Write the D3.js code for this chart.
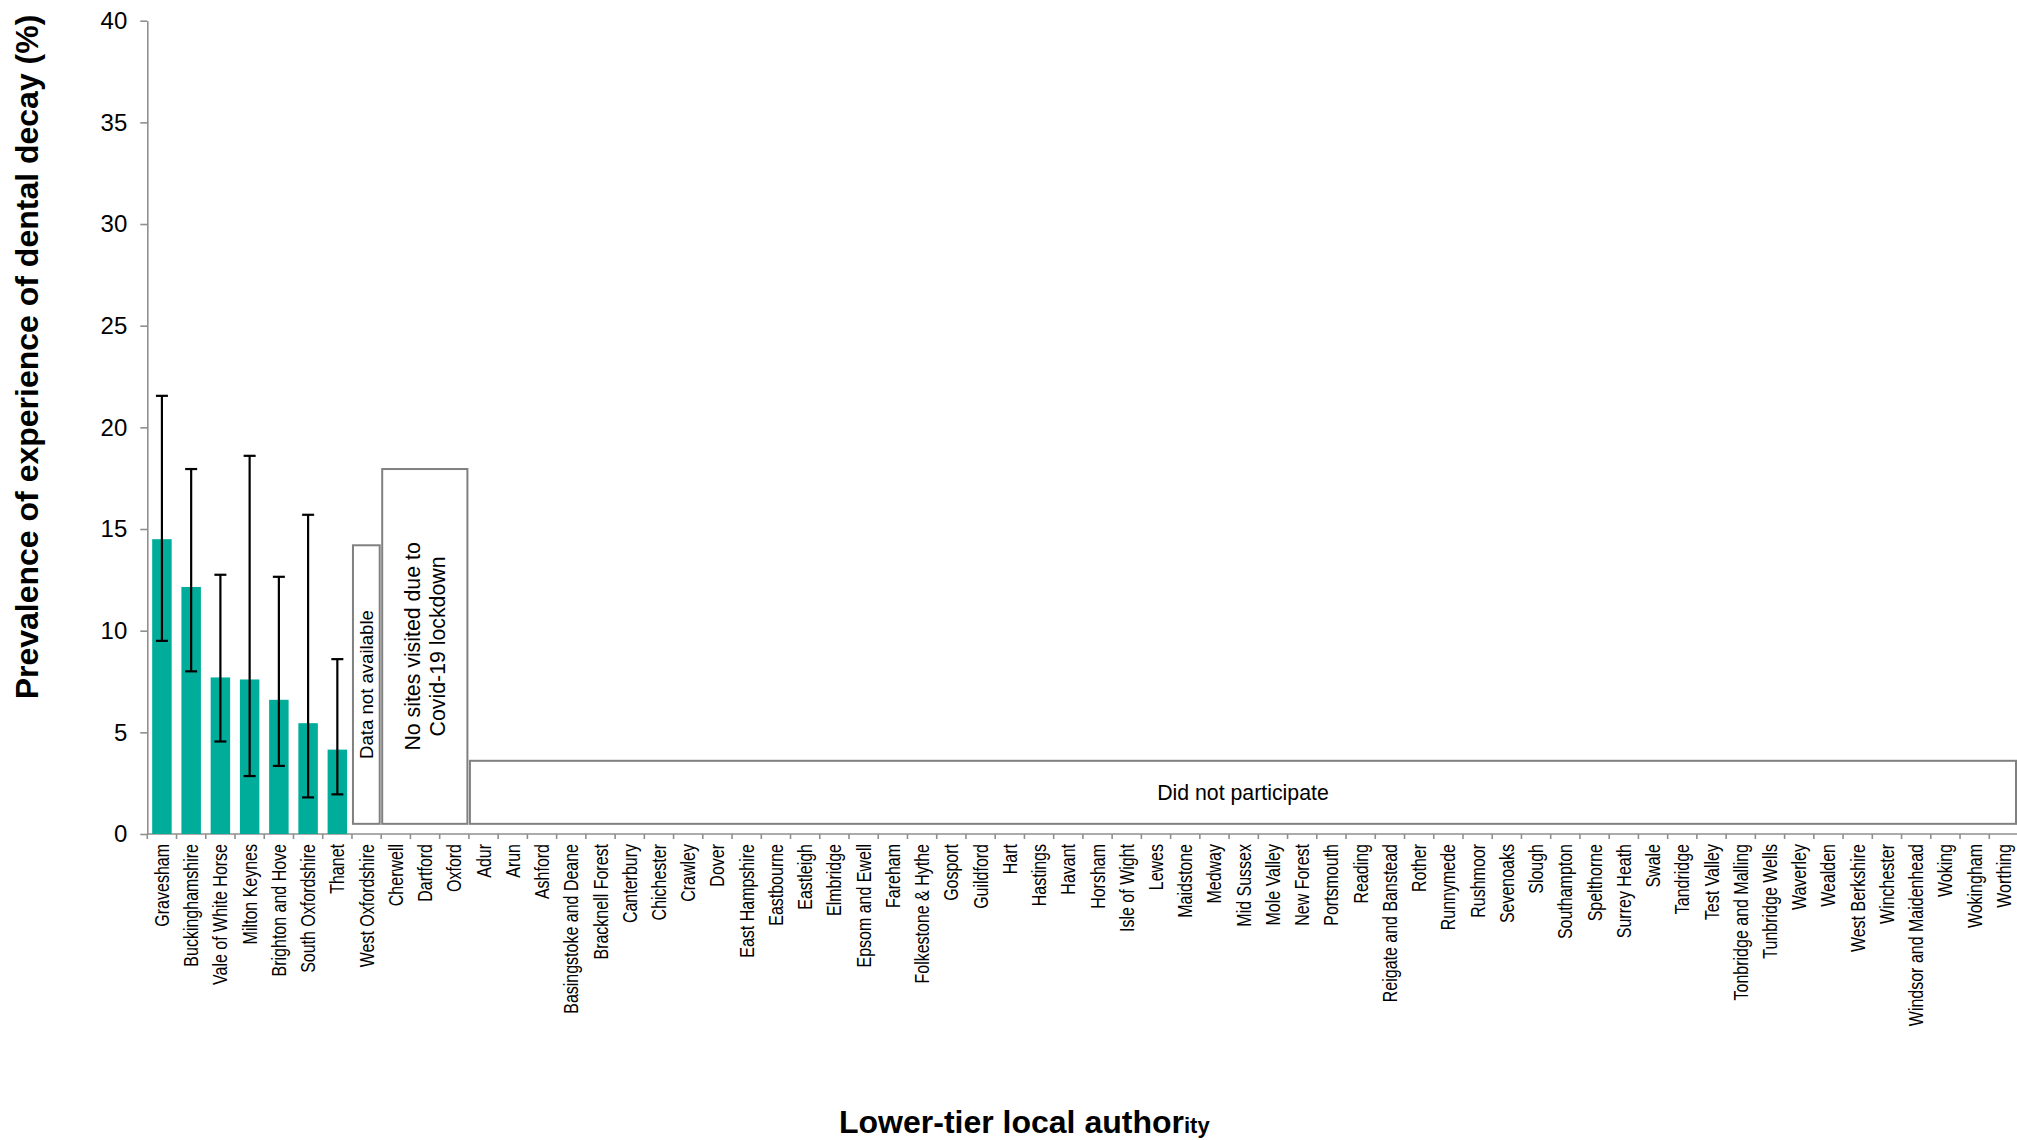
<!DOCTYPE html>
<html>
<head>
<meta charset="utf-8">
<script src="https://cdn.jsdelivr.net/npm/d3@7"></script>
<style>
  html, body { margin: 0; padding: 0; background: #fff; }
  svg { display: block; }
</style>
</head>
<body>
<svg id="chart" width="2017" height="1140"></svg>
<script>
// ---------------- DATA ----------------
const categories = [
  "Gravesham", "Buckinghamshire", "Vale of White Horse", "Milton Keynes",
  "Brighton and Hove", "South Oxfordshire", "Thanet", "West Oxfordshire",
  "Cherwell", "Dartford", "Oxford", "Adur", "Arun", "Ashford",
  "Basingstoke and Deane", "Bracknell Forest", "Canterbury", "Chichester",
  "Crawley", "Dover", "East Hampshire", "Eastbourne", "Eastleigh", "Elmbridge",
  "Epsom and Ewell", "Fareham", "Folkestone & Hythe", "Gosport", "Guildford",
  "Hart", "Hastings", "Havant", "Horsham", "Isle of Wight", "Lewes",
  "Maidstone", "Medway", "Mid Sussex", "Mole Valley", "New Forest",
  "Portsmouth", "Reading", "Reigate and Banstead", "Rother", "Runnymede",
  "Rushmoor", "Sevenoaks", "Slough", "Southampton", "Spelthorne",
  "Surrey Heath", "Swale", "Tandridge", "Test Valley", "Tonbridge and Malling",
  "Tunbridge Wells", "Waverley", "Wealden", "West Berkshire", "Winchester",
  "Windsor and Maidenhead", "Woking", "Wokingham", "Worthing"
];

// authorities with a prevalence estimate
const barCategories = ["Gravesham", "Buckinghamshire", "Vale of White Horse",
  "Milton Keynes", "Brighton and Hove", "South Oxfordshire", "Thanet"];
const prevalence = [14.5, 12.15, 7.7, 7.6, 6.6, 5.45, 4.15];
const ciLower    = [9.5, 8.0, 4.55, 2.85, 3.35, 1.8, 1.95];
const ciUpper    = [21.55, 17.95, 12.75, 18.6, 12.65, 15.7, 8.6];

const yTicks = [0, 5, 10, 15, 20, 25, 30, 35, 40];

// annotation boxes (category span and value span)
const noteLabels = [["Data not available"],
                    ["No sites visited due to", "Covid-19 lockdown"],
                    ["Did not participate"]];
const noteFirst  = ["West Oxfordshire", "Cherwell", "Adur"];
const noteLast   = ["West Oxfordshire", "Oxford", "Worthing"];
const noteTop    = [14.2, 17.95, 3.6];
const noteBottom = [0.5, 0.5, 0.5];

const yTitle = "Prevalence of experience of dental decay (%)";
const xTitleMain = "Lower-tier local author";
const xTitleTail = "ity";

// ---------------- LAYOUT ----------------
const svg = d3.select("#chart");
svg.append("rect").attr("width", 2017).attr("height", 1140).attr("fill", "#fff");

const plotLeft = 147.3, plotRight = 2018.5, plotTop = 20.7, plotBottom = 834;
const axisColor = "#8f8f8f";
const font = "'Liberation Sans', Arial, sans-serif";

const y = d3.scaleLinear().domain([0, 40]).range([plotBottom, plotTop]);
const xSlot = d3.scaleBand().domain(categories).range([plotLeft, plotRight]).padding(0);
const xBar = d3.scaleBand().domain(categories).range([plotLeft, plotRight])
  .paddingInner(1 / 3).paddingOuter(1 / 6);

// ---------------- Y AXIS ----------------
const yAxis = d3.axisLeft(y).tickValues(yTicks).tickSize(7).tickSizeOuter(0).tickPadding(13);
const gy = svg.append("g").attr("transform", `translate(${plotLeft},0)`).call(yAxis);
gy.select(".domain").attr("stroke", axisColor).attr("stroke-width", 1.6);
gy.selectAll(".tick line").attr("stroke", axisColor).attr("stroke-width", 1.6);
gy.selectAll(".tick text").attr("font-family", font).attr("font-size", 24)
  .attr("fill", "#000");

// ---------------- X AXIS ----------------
const gx = svg.append("g");
gx.append("line").attr("x1", plotLeft).attr("x2", plotRight)
  .attr("y1", plotBottom).attr("y2", plotBottom)
  .attr("stroke", axisColor).attr("stroke-width", 1.6);
const tickPos = categories.map(c => xSlot(c)).concat([xSlot.range()[1]]);
gx.selectAll("line.xt").data(tickPos).join("line").attr("class", "xt")
  .attr("x1", d => d).attr("x2", d => d)
  .attr("y1", plotBottom).attr("y2", plotBottom + 5)
  .attr("stroke", axisColor).attr("stroke-width", 1.6);
// condensed (narrow) category labels
gx.selectAll("text.xl").data(categories).join("text").attr("class", "xl")
  .attr("transform", d => `translate(${xSlot(d) + xSlot.bandwidth() / 2},${plotBottom + 10}) rotate(-90) scale(0.82,1)`)
  .attr("text-anchor", "end")
  .attr("dy", "0.36em")
  .attr("font-family", font)
  .attr("font-size", 19.5)
  .attr("fill", "#000")
  .text(d => d);

// ---------------- BARS ----------------
const barData = barCategories.map((c, i) => ({ c, v: prevalence[i], lo: ciLower[i], hi: ciUpper[i] }));
svg.append("g").selectAll("rect").data(barData).join("rect")
  .attr("x", d => xBar(d.c))
  .attr("width", xBar.bandwidth())
  .attr("y", d => y(d.v))
  .attr("height", d => y(0) - y(d.v))
  .attr("fill", "#00ad9a");

// error bars
const eg = svg.append("g").attr("stroke", "#000").attr("stroke-width", 2.2);
barData.forEach(d => {
  const cx = xBar(d.c) + xBar.bandwidth() / 2;
  eg.append("line").attr("x1", cx).attr("x2", cx).attr("y1", y(d.hi)).attr("y2", y(d.lo));
  eg.append("line").attr("x1", cx - 6).attr("x2", cx + 6).attr("y1", y(d.hi)).attr("y2", y(d.hi));
  eg.append("line").attr("x1", cx - 6).attr("x2", cx + 6).attr("y1", y(d.lo)).attr("y2", y(d.lo));
});

// ---------------- ANNOTATION BOXES ----------------
const ng = svg.append("g");
noteLabels.forEach((lines, i) => {
  const x0 = xSlot(noteFirst[i]) + 1;
  const x1 = Math.min(xSlot(noteLast[i]) + xSlot.bandwidth() - 1.5, 2016);
  const y0 = y(noteTop[i]), y1 = y(noteBottom[i]);
  ng.append("rect").attr("x", x0).attr("y", y0)
    .attr("width", x1 - x0).attr("height", y1 - y0)
    .attr("fill", "#fff").attr("stroke", "#808080").attr("stroke-width", 2);
  const cx = (x0 + x1) / 2, cy = (y0 + y1) / 2;
  const vertical = (x1 - x0) < (y1 - y0);
  const size = i === 0 ? 18.6 : 21.3;
  const lh = 24.3;
  const t = ng.append("text")
    .attr("transform", vertical ? `translate(${cx},${cy}) rotate(-90)` : `translate(${cx},${cy})`)
    .attr("text-anchor", "middle")
    .attr("font-family", font).attr("font-size", size).attr("fill", "#000");
  lines.forEach((ln, k) => {
    t.append("tspan").attr("x", 0)
      .attr("y", (k - (lines.length - 1) / 2) * lh)
      .attr("dy", "0.36em").text(ln);
  });
});

// ---------------- TITLES ----------------
svg.append("text")
  .attr("transform", `translate(38,357) rotate(-90)`)
  .attr("text-anchor", "middle")
  .attr("font-family", font).attr("font-weight", "bold").attr("font-size", 32)
  .attr("fill", "#000")
  .text(yTitle);

const xt = svg.append("text")
  .attr("x", 839).attr("y", 1133)
  .attr("font-family", font).attr("font-weight", "bold").attr("fill", "#000");
xt.append("tspan").attr("font-size", 32).text(xTitleMain);
xt.append("tspan").attr("font-size", 22).text(xTitleTail);
</script>
</body>
</html>
